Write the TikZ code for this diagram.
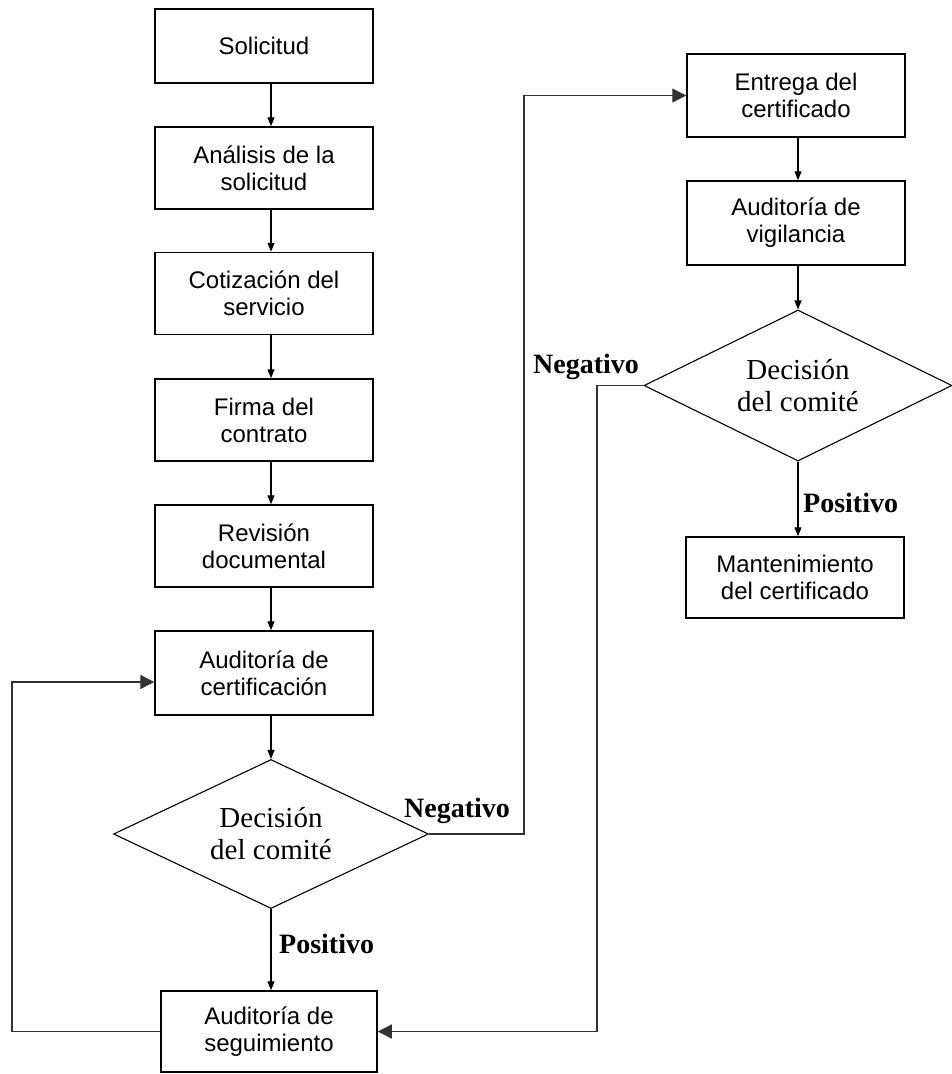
\documentclass[tikz,border=0pt]{standalone}
\usepackage{fontspec}
\setmainfont{Liberation Serif}
\newfontfamily\boxfont{Liberation Sans}
\usetikzlibrary{shapes.geometric,arrows.meta}

\begin{document}
\begin{tikzpicture}[x=1pt,y=-1pt,
  box/.style={draw, line width=1.5pt, rectangle, minimum width=218pt,
    minimum height=82pt, inner sep=0pt, align=center,
    font=\boxfont\fontsize{24}{27}\selectfont},
  decision/.style={draw, line width=1.1pt, diamond, aspect=2.5, inner sep=0pt,
    align=center, font=\fontsize{29}{32}\selectfont},
  flow/.style={line width=1.3pt, -{Triangle[length=9pt,width=7pt]}},
  loopline/.style={line width=1.4pt, draw=black!80,
    -{Triangle[length=14pt,width=14pt]}},
  lbl/.style={font=\bfseries\fontsize{28}{32}\selectfont, inner sep=0pt,
    anchor=base west}]
\useasboundingbox (0,0) rectangle (952,1074);

% main column
\node[box, minimum height=74pt] (sol) at (264,46) {Solicitud};
\node[box] (ana) at (264,168) {Análisis de la\\solicitud};
\node[box] (cot) at (264,293.5) {Cotización del\\servicio};
\node[box] (fir) at (264,420) {Firma del\\contrato};
\node[box] (rev) at (264,546) {Revisión\\documental};
\node[box, minimum height=84pt] (cer) at (264,673) {Auditoría de\\certificación};
\node[decision, minimum width=315pt, minimum height=149pt] (d1) at (271,834)
  {Decisión\\del comité};
\node[box, minimum width=216pt, minimum height=81pt] (seg) at (269,1031.5)
  {Auditoría de\\seguimiento};

% second column
\node[box, minimum height=83pt] (ent) at (796,95.5) {Entrega del\\certificado};
\node[box, minimum height=84pt] (vig) at (796,223) {Auditoría de\\vigilancia};
\node[decision, minimum width=308pt, minimum height=151pt] (d2) at (798,385.5)
  {Decisión\\del comité};
\node[box, minimum height=81pt] (man) at (795,577.5)
  {Mantenimiento\\del certificado};

% turning points of the return paths
\coordinate (lx) at (12,0);
\coordinate (rx) at (524,0);
\coordinate (mx) at (597,0);

% straight flow
\draw[flow] ([xshift=7pt]sol.south) -- ([xshift=7pt]ana.north);
\draw[flow] ([xshift=7pt]ana.south) -- ([xshift=7pt]cot.north);
\draw[flow] ([xshift=7pt]cot.south) -- ([xshift=7pt]fir.north);
\draw[flow] ([xshift=7pt]fir.south) -- ([xshift=7pt]rev.north);
\draw[flow] ([xshift=7pt]rev.south) -- ([xshift=7pt]cer.north);
\draw[flow] (d1.north |- cer.south) -- (d1.north);
\draw[flow] (d1.south) -- (d1.south |- seg.north);
\draw[flow] ([xshift=2pt]ent.south) -- ([xshift=2pt]vig.north);
\draw[flow] (vig.south -| d2.north) -- (d2.north);
\draw[flow] (d2.south) -- (d2.south |- man.north);

% return paths
\draw[loopline] (seg.west) -- (seg.west -| lx) |- ([yshift=-9pt]cer.west);
\draw[loopline] (d1.east) -| (ent.west -| rx) -- (ent.west);
\draw[loopline] (d2.west) -| (seg.east -| mx) -- (seg.east);

% decision labels
\node[lbl] (neg1) at (404,817) {Negativo};
\node[lbl] (pos1) at (279,953) {Positivo};
\node[lbl] (neg2) at (533,373) {Negativo};
\node[lbl] (pos2) at (803,512) {Positivo};
\end{tikzpicture}
\end{document}
